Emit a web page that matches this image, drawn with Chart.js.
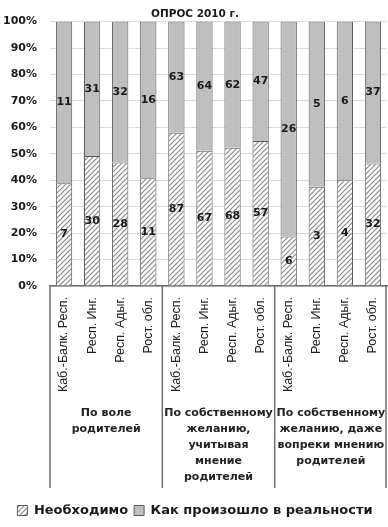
<!DOCTYPE html>
<html>
<head>
<meta charset="utf-8">
<script src="https://cdn.jsdelivr.net/npm/chart.js@4"></script>
<style>
  html, body { margin: 0; padding: 0; background: #fff; }
  #wrap { width: 388px; height: 527px; }
</style>
</head>
<body>
<div id="wrap"><canvas id="surveyChart"></canvas></div>
<script>
// ---- Data ----
const regions = ['Каб.-Балк. Респ.', 'Респ. Инг.', 'Респ. Адыг.', 'Рост. обл.'];
const groupLabels = [
  ['По воле', 'родителей'],
  ['По собственному', 'желанию,', 'учитывая', 'мнение', 'родителей'],
  ['По собственному', 'желанию, даже', 'вопреки мнению', 'родителей']
];
const neededCounts = [7, 30, 28, 11, 87, 67, 68, 57, 6, 3, 4, 32];
const actualCounts = [11, 31, 32, 16, 63, 64, 62, 47, 26, 5, 6, 37];
const yTicks = [0, 10, 20, 30, 40, 50, 60, 70, 80, 90, 100];

const labels = groupLabels.flatMap(() => regions);
const share = (a, b) => a.map((v, i) => v / (v + b[i]) * 100);

// ---- Fill patterns ----
function hatchPattern() {
  const c = document.createElement('canvas');
  c.width = 5; c.height = 5;
  const g = c.getContext('2d');
  g.fillStyle = '#ffffff';
  g.fillRect(0, 0, 5, 5);
  g.strokeStyle = '#8a8a8a';
  g.lineWidth = 1.2;
  g.beginPath();
  g.moveTo(-1, 6); g.lineTo(6, -1);
  g.moveTo(-1, 1); g.lineTo(1, -1);
  g.moveTo(4, 6); g.lineTo(6, 4);
  g.stroke();
  return g.createPattern(c, 'repeat');
}
function dotPattern() {
  const c = document.createElement('canvas');
  c.width = 4; c.height = 4;
  const g = c.getContext('2d');
  g.fillStyle = '#bdbdbd';
  g.fillRect(0, 0, 4, 4);
  g.fillStyle = '#cacaca';
  g.fillRect(0, 0, 1, 1);
  g.fillRect(2, 2, 1, 1);
  return g.createPattern(c, 'repeat');
}

// ---- Plugins ----
const valueLabels = {
  id: 'valueLabels',
  afterDatasetsDraw(chart) {
    const ctx = chart.ctx;
    ctx.save();
    ctx.font = 'bold 11px "DejaVu Sans"';
    ctx.fillStyle = '#1a1a1a';
    ctx.textAlign = 'center';
    ctx.textBaseline = 'middle';
    const counts = [neededCounts, actualCounts];
    chart.data.datasets.forEach((ds, di) => {
      chart.getDatasetMeta(di).data.forEach((bar, i) => {
        ctx.fillText(String(counts[di][i]), bar.x, (bar.y + bar.base) / 2);
      });
    });
    ctx.restore();
  }
};

// group separators and the second row of category labels
const groupAxis = {
  id: 'groupAxis',
  afterDraw(chart) {
    const ctx = chart.ctx;
    const x = chart.scales.x;
    const top = chart.chartArea.bottom;
    const bottom = top + 202;
    const step = (x.right - x.left) / labels.length;
    ctx.save();
    ctx.strokeStyle = '#6e6e6e';
    ctx.lineWidth = 1.5;
    for (let g = 0; g <= groupLabels.length; g++) {
      const px = Math.min(x.left + g * regions.length * step, x.right - 1);
      ctx.beginPath();
      ctx.moveTo(px, top);
      ctx.lineTo(px, bottom);
      ctx.stroke();
    }
    ctx.font = 'bold 11px "DejaVu Sans"';
    ctx.fillStyle = '#222';
    ctx.textAlign = 'center';
    ctx.textBaseline = 'middle';
    groupLabels.forEach((lines, g) => {
      const cx = x.left + (g + 0.5) * regions.length * step;
      lines.forEach((t, k) => ctx.fillText(t, cx, top + 127 + k * 16));
    });
    ctx.restore();
  }
};

// ---- Chart ----
const hatch = hatchPattern();
const dots = dotPattern();

new Chart(document.getElementById('surveyChart'), {
  type: 'bar',
  data: {
    labels: labels,
    datasets: [
      {
        label: 'Необходимо',
        data: share(neededCounts, actualCounts),
        backgroundColor: hatch, borderColor: '#5a5a5a', borderWidth: 1,
        barPercentage: 0.58, categoryPercentage: 1
      },
      {
        label: 'Как произошло в реальности',
        data: share(actualCounts, neededCounts),
        backgroundColor: dots, borderColor: '#5a5a5a', borderWidth: 1,
        barPercentage: 0.58, categoryPercentage: 1
      }
    ]
  },
  options: {
    responsive: true, maintainAspectRatio: false, animation: false,
    layout: { padding: { left: 3, right: 1, bottom: 0 } },
    plugins: {
      title: {
        display: true, text: 'ОПРОС 2010 г.', color: '#1a1a1a',
        font: { family: 'DejaVu Sans', size: 10.5, weight: 'bold' },
        padding: { top: 8, bottom: 1 }
      },
      legend: {
        position: 'bottom',
        labels: {
          color: '#1a1a1a', boxWidth: 10, boxHeight: 10, padding: 6,
          font: { family: 'DejaVu Sans', size: 13, weight: 'bold' }
        }
      },
      tooltip: { enabled: false }
    },
    scales: {
      x: {
        stacked: true,
        grid: { display: false },
        border: { color: '#6e6e6e', width: 1.5 },
        ticks: {
          color: '#222', maxRotation: 90, minRotation: 90, autoSkip: false,
          font: { family: 'Liberation Sans', size: 12.5 }
        },
        afterFit(scale) {
          scale.height = 212;
          scale.paddingLeft = 0;
          scale.paddingRight = 0;
        }
      },
      y: {
        stacked: true, min: 0, max: 100,
        afterBuildTicks(scale) { scale.ticks = yTicks.map(v => ({ value: v })); },
        afterFit(scale) { scale.width = 47; },
        grid: { color: '#dcdcdc', drawTicks: false },
        border: { display: false },
        ticks: {
          color: '#1a1a1a', padding: 13,
          font: { family: 'DejaVu Sans', size: 11, weight: 'bold' },
          callback: v => v + '%'
        }
      }
    }
  },
  plugins: [valueLabels, groupAxis]
});
</script>
</body>
</html>
